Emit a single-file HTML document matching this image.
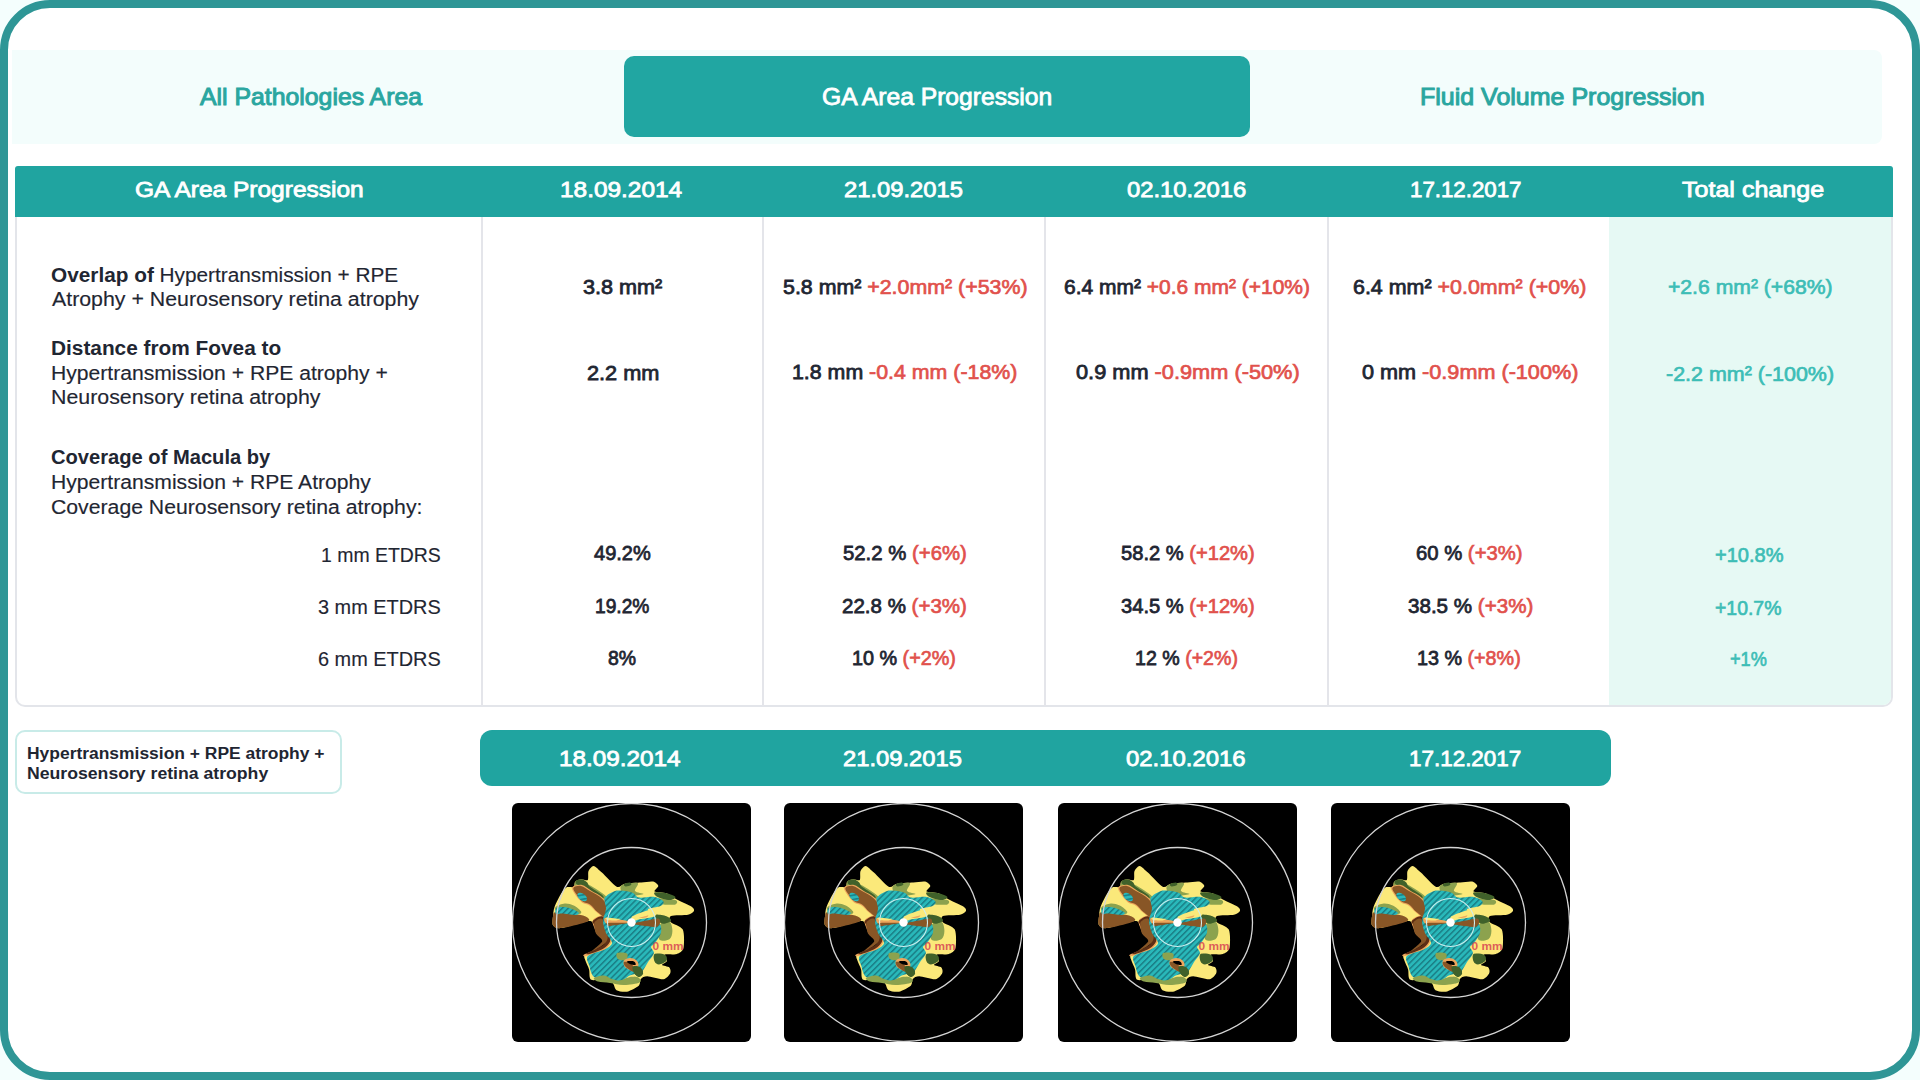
<!DOCTYPE html>
<html><head><meta charset="utf-8"><style>
html,body{margin:0;padding:0;}
body{width:1920px;height:1080px;overflow:hidden;background:#f4fefd;font-family:"Liberation Sans",sans-serif;position:relative;}
.frame{position:absolute;left:0;top:0;width:1904px;height:1064px;border:8px solid #2e9696;border-radius:50px;background:#fff;}
.abs{position:absolute;}
.t{position:absolute;white-space:pre;transform-origin:0 0;}
.dv{position:absolute;top:217px;width:2px;height:489px;background:#e4e5ea;}
</style></head><body>
<div class="frame"></div>
<div class="abs" style="left:12px;top:50px;width:1870px;height:94px;background:#f3fdfc;border-radius:0 8px 8px 0;"></div>
<div class="abs" style="left:624px;top:56px;width:626px;height:81px;background:#21a6a2;border-radius:10px;"></div>
<div class="abs" style="left:15px;top:166px;width:1874px;height:537px;border:2px solid #e3e5ea;border-radius:4px 4px 10px 10px;background:#fff;"></div>
<div class="abs" style="left:1609px;top:217px;width:282px;height:488px;background:#e6f9f4;border-radius:0 0 8px 0;"></div>
<div class="abs" style="left:15px;top:166px;width:1878px;height:51px;background:#20a4a0;border-radius:3px 3px 0 0;"></div>
<div class="dv" style="left:481px;"></div>
<div class="dv" style="left:762px;"></div>
<div class="dv" style="left:1044px;"></div>
<div class="dv" style="left:1327px;"></div>
<div class="abs" style="left:15px;top:730px;width:323px;height:60px;border:2px solid #c8ebe8;border-radius:10px;"></div>
<div class="abs" style="left:480px;top:730px;width:1131px;height:56px;background:#20a4a0;border-radius:12px;"></div>
<svg class="abs" style="left:0;top:0" width="1920" height="1080" viewBox="0 0 1920 1080">
<defs>
<pattern id="hatch" patternUnits="userSpaceOnUse" width="4.2" height="4.2" patternTransform="rotate(-45)">
<rect width="4.2" height="4.2" fill="#29b8ba"/>
<rect width="4.2" height="1.5" fill="#1a7f86"/>
</pattern>
<clipPath id="sq"><rect x="0" y="0" width="239" height="239" rx="6"/></clipPath>
<g id="img">
<rect x="0" y="0" width="239" height="239" rx="6" fill="#000"/>
<g clip-path="url(#sq)">
<path fill="#fbe97a" d="M81.7,62.9 C83.5,63.1 86.8,66.8 89.9,69.6 C93.0,72.4 101.6,82.2 104.7,83.7 C107.8,85.2 109.7,81.3 113.0,80.7 C116.3,80.1 125.6,79.8 129.3,79.5 C133.0,79.2 138.8,78.0 141.1,78.5 C143.4,79.0 146.1,81.6 146.3,82.9 C146.5,84.2 141.5,87.5 142.6,88.5 C143.7,89.5 151.5,89.2 154.5,90.3 C157.5,91.4 161.5,94.7 164.9,96.5 C168.3,98.3 177.4,102.2 179.7,103.7 C182.0,105.2 182.4,107.0 181.9,108.1 C181.4,109.2 179.1,111.1 176.0,111.8 C172.9,112.5 161.3,112.0 159.0,113.0 C156.7,114.0 157.3,117.4 158.9,119.2 C160.5,121.0 169.1,123.1 170.8,126.6 C172.5,130.1 172.3,141.8 171.5,145.1 C170.7,148.4 167.4,150.2 164.9,151.1 C162.4,152.0 154.3,150.6 153.0,151.5 C151.7,152.4 155.4,156.6 155.0,158.0 C154.6,159.4 149.7,161.1 150.0,162.0 C150.3,162.9 156.3,163.3 157.4,164.4 C158.5,165.5 159.0,168.7 158.2,170.3 C157.4,171.9 154.6,175.9 151.5,176.3 C148.4,176.7 138.2,173.3 135.2,173.3 C132.2,173.3 130.0,174.7 128.9,176.0 C127.8,177.3 128.6,181.0 126.7,182.7 C124.8,184.4 117.9,188.1 114.9,188.7 C111.9,189.3 106.3,188.2 104.5,187.2 C102.7,186.2 102.6,182.8 101.5,181.3 C100.4,179.8 99.3,176.4 96.3,175.8 C93.3,175.2 81.9,178.1 79.3,176.8 C76.7,175.5 77.9,169.0 77.1,166.4 C76.3,163.8 73.9,159.6 73.4,157.6 C72.9,155.6 71.0,153.2 73.4,151.6 C75.8,150.0 87.8,147.4 91.1,145.7 C94.4,144.0 98.6,141.0 97.8,139.0 C97.0,137.0 87.3,133.2 85.2,130.9 C83.1,128.6 83.5,123.7 82.3,122.0 C81.1,120.3 80.9,117.6 76.5,118.0 C72.1,118.4 53.8,124.5 49.1,125.1 C44.4,125.7 42.1,123.8 41.0,122.2 C39.9,120.6 40.8,115.7 41.0,113.3 C41.2,110.9 41.4,107.3 42.4,104.4 C43.4,101.5 46.8,94.5 48.4,91.8 C50.0,89.1 52.5,85.4 54.3,84.4 C56.1,83.4 60.5,84.8 61.7,84.0 C62.9,83.2 62.2,79.5 63.2,78.5 C64.2,77.5 67.4,76.5 69.1,76.3 C70.8,76.1 74.8,78.1 75.8,77.0 C76.8,75.9 75.7,70.0 76.5,68.1 C77.3,66.2 79.9,62.7 81.7,62.9Z" />
<path fill="#8ca24e" d="M63.2,80.0 C64.7,79.2 70.5,79.3 75.0,81.0 C79.5,82.7 86.5,87.5 90.0,90.0 C93.5,92.5 95.7,94.5 96.0,96.0 C96.3,97.5 95.0,100.0 92.0,99.0 C89.0,98.0 82.3,92.2 78.0,90.0 C73.7,87.8 68.5,87.7 66.0,86.0 C63.5,84.3 61.7,80.8 63.2,80.0Z" />
<path fill="#8ca24e" d="M110.0,82.0 C112.6,80.5 123.4,79.0 125.6,80.0 C127.8,81.0 122.0,86.2 123.0,88.0 C124.0,89.8 132.2,90.3 131.5,91.1 C130.8,91.9 122.5,92.9 118.9,92.6 C115.3,92.2 111.5,90.8 110.0,89.0 C108.5,87.2 107.4,83.5 110.0,82.0Z" />
<path fill="#8ca24e" d="M146.3,95.5 C149.2,95.2 160.6,96.0 163.4,97.0 C166.2,98.0 165.4,100.7 163.4,101.4 C161.4,102.1 154.4,101.8 151.5,101.4 C148.6,101.0 146.9,100.0 146.0,99.0 C145.1,98.0 143.4,95.8 146.3,95.5Z" />
<path fill="#8ca24e" d="M148.6,120.7 C150.3,119.1 155.4,117.3 157.4,118.5 C159.4,119.7 160.4,125.1 160.4,128.1 C160.4,131.1 159.5,134.8 157.4,136.3 C155.3,137.8 149.5,138.4 147.8,137.0 C146.1,135.6 146.9,130.7 147.0,128.0 C147.1,125.3 146.9,122.3 148.6,120.7Z" />
<path fill="#8ca24e" d="M128.6,141.4 C129.7,139.9 135.9,138.1 137.4,139.2 C138.9,140.3 138.5,146.6 137.4,148.1 C136.3,149.6 132.3,149.2 130.8,148.1 C129.3,147.0 127.5,142.9 128.6,141.4Z" />
<path fill="#8ca24e" d="M43.9,103.7 C45.4,102.6 49.8,100.7 52.8,100.5 C55.8,100.3 59.0,101.2 61.7,102.5 C64.4,103.8 68.4,107.1 69.1,108.5 C69.8,109.9 68.8,111.4 66.0,111.0 C63.1,110.6 55.7,106.7 52.0,106.0 C48.3,105.3 45.4,107.4 44.0,107.0 C42.6,106.6 42.4,104.8 43.9,103.7Z" />
<path fill="#8ca24e" d="M84.5,173.9 C86.2,172.9 92.5,170.5 96.3,170.9 C100.1,171.3 102.7,176.0 107.4,176.5 C112.1,177.0 121.2,173.5 124.5,173.9 C127.8,174.3 130.0,177.8 127.4,179.0 C124.8,180.2 114.1,181.6 108.9,181.3 C103.7,181.0 99.8,177.7 96.0,177.0 C92.2,176.3 87.9,177.5 86.0,177.0 C84.1,176.5 82.8,174.9 84.5,173.9Z" />
<path fill="#8ca24e" d="M105.2,150.1 C106.7,149.2 113.4,149.4 114.9,150.5 C116.4,151.6 115.5,155.9 114.0,156.8 C112.5,157.7 107.5,157.1 106.0,156.0 C104.5,154.9 103.7,151.0 105.2,150.1Z" />
<path fill="#40612a" d="M63.2,78.5 C63.7,77.5 67.1,76.2 69.1,76.3 C71.1,76.4 73.5,78.0 75.0,79.2 C76.5,80.4 75.5,81.6 78.0,83.7 C80.5,85.8 87.7,89.8 89.9,91.8 C92.1,93.8 92.0,95.1 91.3,95.5 C90.6,95.9 88.7,95.8 86.0,94.0 C83.3,92.2 78.3,87.0 75.0,85.0 C71.7,83.0 68.0,83.1 66.0,82.0 C64.0,80.9 62.7,79.5 63.2,78.5Z" />
<path fill="#40612a" d="M142.6,89.6 C144.1,89.0 151.0,89.6 154.5,90.3 C158.0,91.0 162.9,92.9 163.4,94.0 C163.9,95.1 160.4,97.0 157.4,97.0 C154.4,97.0 148.1,95.2 145.6,94.0 C143.1,92.8 141.1,90.2 142.6,89.6Z" />
<path fill="#40612a" d="M112.0,81.0 C112.8,80.3 116.8,79.3 118.0,79.5 C119.2,79.7 119.8,81.3 119.0,82.0 C118.2,82.7 114.7,83.7 113.5,83.5 C112.3,83.3 111.2,81.7 112.0,81.0Z" />
<path fill="#40612a" d="M142.6,111.8 C144.1,111.1 151.8,112.3 154.5,113.3 C157.2,114.3 159.5,116.5 159.0,117.7 C158.5,118.9 153.7,120.7 151.5,120.7 C149.3,120.7 147.1,119.2 145.6,117.7 C144.1,116.2 141.1,112.5 142.6,111.8Z" />
<path fill="#40612a" d="M142.6,151.1 C144.3,150.0 151.0,150.7 153.0,151.8 C155.0,152.9 155.5,156.1 154.5,157.7 C153.5,159.3 149.1,161.3 147.1,161.4 C145.1,161.5 143.3,160.2 142.6,158.5 C141.8,156.8 140.9,152.2 142.6,151.1Z" />
<path fill="#40612a" d="M120.8,163.5 C121.8,162.5 126.3,162.9 128.0,164.0 C129.7,165.1 131.3,168.3 131.1,170.0 C130.9,171.7 128.5,173.9 127.0,173.9 C125.5,173.9 123.0,171.7 122.0,170.0 C121.0,168.3 119.8,164.5 120.8,163.5Z" />
<path fill="#eda65c" d="M60.5,84.0 C61.8,82.6 66.9,81.4 70.0,82.0 C73.1,82.6 75.5,85.3 79.0,87.5 C82.5,89.7 87.7,91.7 91.0,95.0 C94.3,98.3 98.3,104.0 99.0,107.5 C99.7,111.0 97.3,115.7 95.0,116.0 C92.7,116.3 87.9,111.8 85.0,109.5 C82.1,107.2 80.0,104.2 77.5,102.5 C75.0,100.8 72.5,101.5 70.0,99.5 C67.5,97.5 64.1,93.1 62.5,90.5 C60.9,87.9 59.2,85.4 60.5,84.0Z" />
<path fill="#eda65c" d="M81.0,117.0 C82.3,115.2 87.2,112.2 90.0,113.0 C92.8,113.8 96.3,118.8 98.0,122.0 C99.7,125.2 99.8,129.1 100.0,132.0 C100.2,134.9 100.3,137.0 99.0,139.5 C97.7,142.0 96.2,144.8 92.0,147.0 C87.8,149.2 77.2,152.3 74.0,153.0 C70.8,153.7 70.2,152.4 73.0,151.0 C75.8,149.6 86.8,146.4 90.5,144.5 C94.2,142.6 96.2,141.7 95.5,139.5 C94.8,137.3 88.2,134.1 86.0,131.5 C83.8,128.9 82.8,126.4 82.0,124.0 C81.2,121.6 79.7,118.8 81.0,117.0Z" />
<path fill="#eda65c" d="M112.0,157.5 C112.8,156.0 116.0,155.1 118.0,155.0 C120.0,154.9 122.6,155.8 124.0,157.0 C125.4,158.2 126.8,160.2 126.5,162.0 C126.2,163.8 124.2,167.7 122.0,168.0 C119.8,168.3 114.7,165.8 113.0,164.0 C111.3,162.2 111.2,159.0 112.0,157.5Z" />
<path fill="#885626" d="M61.7,84.4 C62.7,83.3 66.4,82.3 69.1,82.9 C71.8,83.5 74.5,86.0 78.0,88.1 C81.5,90.2 86.7,92.3 89.9,95.5 C93.1,98.7 96.6,104.2 97.3,107.4 C98.0,110.6 96.3,114.5 94.3,114.8 C92.3,115.0 88.1,111.1 85.4,108.9 C82.7,106.7 80.5,103.1 78.0,101.4 C75.5,99.7 73.1,100.5 70.6,98.5 C68.1,96.5 64.7,91.9 63.2,89.6 C61.7,87.2 60.7,85.5 61.7,84.4Z" />
<path fill="#885626" d="M41.0,113.3 C41.6,111.1 40.3,109.2 44.7,108.9 C49.1,108.7 62.3,110.7 67.6,111.8 C72.9,112.9 75.5,114.3 76.5,115.5 C77.5,116.7 78.2,117.6 73.6,119.2 C69.0,120.8 54.5,124.6 49.1,125.1 C43.7,125.6 42.4,124.2 41.0,122.2 C39.6,120.2 40.4,115.5 41.0,113.3Z" />
<path fill="#885626" d="M111.9,159.0 C112.7,158.4 116.3,159.0 118.0,160.0 C119.7,161.0 121.8,163.6 122.3,165.0 C122.8,166.4 122.5,168.9 121.0,168.7 C119.5,168.4 114.9,165.1 113.4,163.5 C111.9,161.9 111.1,159.6 111.9,159.0Z" />
<path fill="#5e2e14" d="M81.0,117.7 C82.3,116.2 87.4,112.8 89.9,113.3 C92.4,113.8 94.7,118.2 96.0,121.0 C97.3,123.8 97.7,127.0 98.0,130.0 C98.3,133.0 99.0,136.4 97.8,139.0 C96.6,141.6 94.4,143.7 91.1,145.7 C87.8,147.7 80.5,150.2 77.8,150.9 C75.1,151.6 73.0,151.3 75.0,150.0 C77.0,148.7 87.0,145.0 90.0,143.0 C93.0,141.0 93.8,140.0 93.0,138.0 C92.2,136.0 87.0,133.6 85.2,130.9 C83.4,128.2 83.0,124.2 82.3,122.0 C81.6,119.8 79.7,119.2 81.0,117.7Z" />
<path fill="#885626" d="M83.0,118.5 C84.2,117.2 87.7,114.9 89.5,115.5 C91.3,116.1 93.0,119.6 94.0,122.0 C95.0,124.4 95.3,127.4 95.5,130.0 C95.7,132.6 96.0,135.3 95.0,137.5 C94.0,139.7 92.0,141.2 89.5,143.0 C87.0,144.8 80.2,148.3 80.0,148.0 C79.8,147.7 86.3,142.8 88.0,141.0 C89.7,139.2 90.7,138.8 90.0,137.0 C89.3,135.2 85.2,132.8 84.0,130.5 C82.8,128.2 82.7,125.0 82.5,123.0 C82.3,121.0 81.8,119.8 83.0,118.5Z" />
<path fill="url(#hatch)" d="M92.7,95.0 C94.0,92.3 100.0,89.0 103.0,88.0 C106.0,87.0 110.3,87.7 113.0,88.0 C115.7,88.3 118.9,89.0 121.0,90.0 C123.1,91.0 123.8,93.9 127.0,94.5 C130.2,95.1 138.9,93.4 142.6,94.0 C146.3,94.6 150.6,97.2 151.5,98.5 C152.4,99.8 150.9,101.8 148.6,102.9 C146.3,104.0 137.1,104.8 136.0,106.0 C134.9,107.2 139.5,109.2 141.0,111.0 C142.5,112.8 144.8,116.0 146.0,118.0 C147.2,120.0 148.6,122.0 149.0,124.0 C149.4,126.0 149.5,128.6 148.6,131.0 C147.7,133.4 144.4,138.1 143.0,140.0 C141.6,141.9 139.2,142.5 139.0,144.0 C138.8,145.5 142.4,147.9 141.9,150.3 C141.4,152.7 137.5,156.9 135.6,159.7 C133.7,162.5 131.9,167.3 129.3,169.2 C126.7,171.1 121.1,171.1 118.3,172.3 C115.5,173.5 113.5,176.1 110.4,177.0 C107.3,177.9 102.0,179.1 97.8,178.6 C93.6,178.1 85.2,176.3 82.1,173.9 C79.0,171.5 78.3,166.0 77.4,162.9 C76.5,159.8 73.5,155.5 75.8,153.0 C78.1,150.5 89.0,148.3 92.6,146.4 C96.2,144.5 99.8,142.5 100.0,140.0 C100.2,137.5 95.3,133.3 94.0,130.0 C92.7,126.7 91.0,121.6 91.0,118.0 C91.0,114.4 93.7,109.5 94.0,106.0 C94.3,102.5 91.4,97.7 92.7,95.0Z" />
<path fill="url(#hatch)" d="M44.7,105.1 C46.5,104.0 51.4,103.8 55.0,104.5 C58.6,105.2 64.6,107.8 66.1,109.0 C67.6,110.2 66.7,111.8 64.0,112.0 C61.3,112.2 53.3,110.7 50.0,110.5 C46.7,110.3 44.9,111.9 44.0,111.0 C43.1,110.1 42.9,106.2 44.7,105.1Z" />
<ellipse cx="70.2" cy="94" rx="5.5" ry="3.3" transform="rotate(35 70.2 94)" fill="url(#hatch)"/>
<path fill="#8ca24e" d="M82.0,175.0 C83.0,174.0 89.0,172.3 92.0,172.5 C95.0,172.7 97.3,175.2 100.0,176.0 C102.7,176.8 105.0,177.8 108.0,177.5 C111.0,177.2 115.0,174.4 118.0,174.0 C121.0,173.6 124.4,174.1 126.0,175.0 C127.6,175.9 129.8,178.3 127.5,179.5 C125.2,180.7 116.9,181.9 112.0,182.0 C107.1,182.1 102.3,180.6 98.0,180.0 C93.7,179.4 88.7,179.3 86.0,178.5 C83.3,177.7 81.0,176.0 82.0,175.0Z" />
<path fill="#8ca24e" d="M105.2,150.1 C106.7,149.2 113.4,149.4 114.9,150.5 C116.4,151.6 115.5,155.9 114.0,156.8 C112.5,157.7 107.5,157.1 106.0,156.0 C104.5,154.9 103.7,151.0 105.2,150.1Z" />
<path fill="#eda65c" d="M112.0,157.5 C112.8,156.0 116.0,155.1 118.0,155.0 C120.0,154.9 122.6,155.8 124.0,157.0 C125.4,158.2 126.8,160.2 126.5,162.0 C126.2,163.8 124.2,167.7 122.0,168.0 C119.8,168.3 114.7,165.8 113.0,164.0 C111.3,162.2 111.2,159.0 112.0,157.5Z" />
<path fill="#885626" d="M111.9,159.0 C112.7,158.4 116.3,159.0 118.0,160.0 C119.7,161.0 121.8,163.6 122.3,165.0 C122.8,166.4 122.5,168.9 121.0,168.7 C119.5,168.4 114.9,165.1 113.4,163.5 C111.9,161.9 111.1,159.6 111.9,159.0Z" />
<path fill="#000" d="M115.0,158.5 C115.7,158.1 120.6,157.9 122.0,158.5 C123.4,159.1 124.2,161.6 123.5,162.0 C122.8,162.4 119.4,161.6 118.0,161.0 C116.6,160.4 114.3,158.9 115.0,158.5Z" />
<path fill="#40612a" d="M120.8,163.5 C121.8,162.5 126.3,162.9 128.0,164.0 C129.7,165.1 131.3,168.3 131.1,170.0 C130.9,171.7 128.5,173.9 127.0,173.9 C125.5,173.9 123.0,171.7 122.0,170.0 C121.0,168.3 119.8,164.5 120.8,163.5Z" />
<path fill="#fbe97a" d="M120.4,113.3 C122.8,111.5 131.2,108.6 135.2,107.4 C139.1,106.2 142.9,104.9 144.1,105.9 C145.3,106.9 145.3,111.6 142.6,113.3 C139.9,115.0 131.4,115.5 127.8,116.3 C124.2,117.1 122.2,118.5 121.0,118.0 C119.8,117.5 118.0,115.1 120.4,113.3Z" />
<path fill="#eda65c" d="M127.0,115.0 C127.3,114.7 134.8,112.6 136.0,112.5 C137.2,112.4 135.5,114.1 134.0,114.5 C132.5,114.9 126.7,115.3 127.0,115.0Z" />
<path fill="#885626" d="M123.0,120.0 C125.3,119.4 143.5,115.5 146.0,115.5 C148.5,115.5 148.2,119.2 148.0,120.0 C147.8,120.8 146.5,123.8 144.0,124.0 C141.5,124.2 125.1,121.9 123.0,121.5 C120.9,121.1 120.7,120.6 123.0,120.0Z" />
<path fill="#eda65c" d="M93.0,115.0 C95.1,114.7 113.7,117.5 116.0,118.0 C118.3,118.5 118.1,119.7 116.0,120.0 C113.9,120.3 97.3,121.5 95.0,121.0 C92.7,120.5 90.9,115.3 93.0,115.0Z" />
<path fill="#fbe97a" d="M94.0,114.5 C95.3,114.4 107.0,115.7 108.0,116.0 C109.0,116.3 105.3,117.4 104.0,117.5 C102.7,117.6 96.0,117.3 95.0,117.0 C94.0,116.7 92.7,114.6 94.0,114.5Z" />
<path fill="#885626" d="M95.0,120.0 C96.9,119.7 115.8,119.7 116.0,120.0 C116.2,120.3 99.1,123.0 97.0,123.0 C94.9,123.0 93.1,120.3 95.0,120.0Z" />
<circle cx="119.5" cy="119.5" r="119" fill="none" stroke="#d4d4d4" stroke-width="1.3"/>
<circle cx="119.5" cy="119.5" r="75" fill="none" stroke="#d4d4d4" stroke-width="1.3"/>
<circle cx="119.5" cy="119.5" r="24" fill="none" stroke="#cfeeee" stroke-width="1.1"/>
<circle cx="119.5" cy="119.5" r="4.2" fill="#fff"/>
<text x="140.5" y="147.3" font-family="Liberation Sans" font-weight="700" font-size="10.5" fill="#d94b55" fill-opacity="0.9" textLength="31" lengthAdjust="spacingAndGlyphs">0 mm</text>
</g>
</g>
</defs>
<use href="#img" x="512" y="803"/>
<use href="#img" x="784" y="803"/>
<use href="#img" x="1058" y="803"/>
<use href="#img" x="1331" y="803"/>
</svg>
<div class="t" style="left:200.43px;top:85.10px;font-size:24px;line-height:24px;transform:scaleX(1.0336)"><span style="font-weight:400;color:#2aa6a0;-webkit-text-stroke:1.0px #2aa6a0;">All Pathologies Area</span></div>
<div class="t" style="left:822.40px;top:85.10px;font-size:24px;line-height:24px;transform:scaleX(1.0274)"><span style="font-weight:400;color:#ffffff;-webkit-text-stroke:0.8px #ffffff;">GA Area Progression</span></div>
<div class="t" style="left:1420.26px;top:85.10px;font-size:24px;line-height:24px;transform:scaleX(1.0412)"><span style="font-weight:400;color:#2aa6a0;-webkit-text-stroke:1.0px #2aa6a0;">Fluid Volume Progression</span></div>
<div class="t" style="left:134.60px;top:179.72px;font-size:21.5px;line-height:21.5px;transform:scaleX(1.1390)"><span style="font-weight:400;color:#ffffff;-webkit-text-stroke:0.8px #ffffff;">GA Area Progression</span></div>
<div class="t" style="left:560.47px;top:179.72px;font-size:21.5px;line-height:21.5px;transform:scaleX(1.1346)"><span style="font-weight:400;color:#ffffff;-webkit-text-stroke:0.8px #ffffff;">18.09.2014</span></div>
<div class="t" style="left:844.30px;top:179.72px;font-size:21.5px;line-height:21.5px;transform:scaleX(1.1046)"><span style="font-weight:400;color:#ffffff;-webkit-text-stroke:0.8px #ffffff;">21.09.2015</span></div>
<div class="t" style="left:1127.40px;top:179.72px;font-size:21.5px;line-height:21.5px;transform:scaleX(1.1074)"><span style="font-weight:400;color:#ffffff;-webkit-text-stroke:0.8px #ffffff;">02.10.2016</span></div>
<div class="t" style="left:1409.56px;top:179.72px;font-size:21.5px;line-height:21.5px;transform:scaleX(1.0358)"><span style="font-weight:400;color:#ffffff;-webkit-text-stroke:0.8px #ffffff;">17.12.2017</span></div>
<div class="t" style="left:1681.60px;top:179.72px;font-size:21.5px;line-height:21.5px;transform:scaleX(1.1652)"><span style="font-weight:400;color:#ffffff;-webkit-text-stroke:0.8px #ffffff;">Total change</span></div>
<div class="t" style="left:50.56px;top:265.00px;font-size:20px;line-height:20px;transform:scaleX(1.0393)"><span style="font-weight:700;color:#1f2632;">Overlap of </span><span style="font-weight:400;color:#1f2632;-webkit-text-stroke:0.15px #1f2632;">Hypertransmission + RPE</span></div>
<div class="t" style="left:51.60px;top:289.20px;font-size:20px;line-height:20px;transform:scaleX(1.0666)"><span style="font-weight:400;color:#1f2632;-webkit-text-stroke:0.15px #1f2632;">Atrophy + Neurosensory retina atrophy</span></div>
<div class="t" style="left:50.56px;top:337.80px;font-size:20px;line-height:20px;transform:scaleX(1.0409)"><span style="font-weight:700;color:#1f2632;">Distance from Fovea to</span></div>
<div class="t" style="left:51.14px;top:362.60px;font-size:20px;line-height:20px;transform:scaleX(1.0558)"><span style="font-weight:400;color:#1f2632;-webkit-text-stroke:0.15px #1f2632;">Hypertransmission + RPE atrophy +</span></div>
<div class="t" style="left:51.13px;top:387.20px;font-size:20px;line-height:20px;transform:scaleX(1.0677)"><span style="font-weight:400;color:#1f2632;-webkit-text-stroke:0.15px #1f2632;">Neurosensory retina atrophy</span></div>
<div class="t" style="left:50.59px;top:447.00px;font-size:20px;line-height:20px;transform:scaleX(1.0065)"><span style="font-weight:700;color:#1f2632;">Coverage of Macula by</span></div>
<div class="t" style="left:51.14px;top:471.60px;font-size:20px;line-height:20px;transform:scaleX(1.0560)"><span style="font-weight:400;color:#1f2632;-webkit-text-stroke:0.15px #1f2632;">Hypertransmission + RPE Atrophy</span></div>
<div class="t" style="left:50.54px;top:496.50px;font-size:20px;line-height:20px;transform:scaleX(1.0606)"><span style="font-weight:400;color:#1f2632;-webkit-text-stroke:0.15px #1f2632;">Coverage Neurosensory retina atrophy:</span></div>
<div class="t" style="left:320.83px;top:544.70px;font-size:20px;line-height:20px;transform:scaleX(0.9713)"><span style="font-weight:400;color:#1f2632;-webkit-text-stroke:0.15px #1f2632;">1 mm ETDRS</span></div>
<div class="t" style="left:317.90px;top:597.00px;font-size:20px;line-height:20px;transform:scaleX(0.9951)"><span style="font-weight:400;color:#1f2632;-webkit-text-stroke:0.15px #1f2632;">3 mm ETDRS</span></div>
<div class="t" style="left:317.90px;top:649.30px;font-size:20px;line-height:20px;transform:scaleX(0.9951)"><span style="font-weight:400;color:#1f2632;-webkit-text-stroke:0.15px #1f2632;">6 mm ETDRS</span></div>
<div class="t" style="left:583.00px;top:276.15px;font-size:21px;line-height:21px;transform:scaleX(1.0299)"><span style="font-weight:400;color:#1f2632;-webkit-text-stroke:0.8px #1f2632;">3.8 mm²</span></div>
<div class="t" style="left:782.60px;top:276.15px;font-size:21px;line-height:21px;transform:scaleX(1.0171)"><span style="font-weight:400;color:#1f2632;-webkit-text-stroke:0.8px #1f2632;">5.8 mm² </span><span style="font-weight:400;color:#e1514c;-webkit-text-stroke:0.7px #e1514c;">+2.0mm² (+53%)</span></div>
<div class="t" style="left:1064.30px;top:276.15px;font-size:21px;line-height:21px;transform:scaleX(0.9988)"><span style="font-weight:400;color:#1f2632;-webkit-text-stroke:0.8px #1f2632;">6.4 mm² </span><span style="font-weight:400;color:#e1514c;-webkit-text-stroke:0.7px #e1514c;">+0.6 mm² (+10%)</span></div>
<div class="t" style="left:1353.00px;top:276.15px;font-size:21px;line-height:21px;transform:scaleX(1.0206)"><span style="font-weight:400;color:#1f2632;-webkit-text-stroke:0.8px #1f2632;">6.4 mm² </span><span style="font-weight:400;color:#e1514c;-webkit-text-stroke:0.7px #e1514c;">+0.0mm² (+0%)</span></div>
<div class="t" style="left:1667.70px;top:276.05px;font-size:21px;line-height:21px;transform:scaleX(1.0074)"><span style="font-weight:400;color:#3dbdb6;-webkit-text-stroke:0.7px #3dbdb6;">+2.6 mm² (+68%)</span></div>
<div class="t" style="left:586.60px;top:361.65px;font-size:21px;line-height:21px;transform:scaleX(1.0348)"><span style="font-weight:400;color:#1f2632;-webkit-text-stroke:0.8px #1f2632;">2.2 mm</span></div>
<div class="t" style="left:792.28px;top:360.65px;font-size:21px;line-height:21px;transform:scaleX(1.0164)"><span style="font-weight:400;color:#1f2632;-webkit-text-stroke:0.8px #1f2632;">1.8 mm </span><span style="font-weight:400;color:#e1514c;-webkit-text-stroke:0.7px #e1514c;">-0.4 mm (-18%)</span></div>
<div class="t" style="left:1075.80px;top:360.65px;font-size:21px;line-height:21px;transform:scaleX(1.0363)"><span style="font-weight:400;color:#1f2632;-webkit-text-stroke:0.8px #1f2632;">0.9 mm </span><span style="font-weight:400;color:#e1514c;-webkit-text-stroke:0.7px #e1514c;">-0.9mm (-50%)</span></div>
<div class="t" style="left:1361.70px;top:360.65px;font-size:21px;line-height:21px;transform:scaleX(1.0301)"><span style="font-weight:400;color:#1f2632;-webkit-text-stroke:0.8px #1f2632;">0 mm </span><span style="font-weight:400;color:#e1514c;-webkit-text-stroke:0.7px #e1514c;">-0.9mm (-100%)</span></div>
<div class="t" style="left:1666.20px;top:363.15px;font-size:21px;line-height:21px;transform:scaleX(1.0213)"><span style="font-weight:400;color:#3dbdb6;-webkit-text-stroke:0.7px #3dbdb6;">-2.2 mm² (-100%)</span></div>
<div class="t" style="left:594.00px;top:542.15px;font-size:21px;line-height:21px;transform:scaleX(0.9533)"><span style="font-weight:400;color:#1f2632;-webkit-text-stroke:0.8px #1f2632;">49.2%</span></div>
<div class="t" style="left:843.00px;top:542.15px;font-size:21px;line-height:21px;transform:scaleX(0.9685)"><span style="font-weight:400;color:#1f2632;-webkit-text-stroke:0.8px #1f2632;">52.2 % </span><span style="font-weight:400;color:#e1514c;-webkit-text-stroke:0.7px #e1514c;">(+6%)</span></div>
<div class="t" style="left:1120.50px;top:542.15px;font-size:21px;line-height:21px;transform:scaleX(0.9586)"><span style="font-weight:400;color:#1f2632;-webkit-text-stroke:0.8px #1f2632;">58.2 % </span><span style="font-weight:400;color:#e1514c;-webkit-text-stroke:0.7px #e1514c;">(+12%)</span></div>
<div class="t" style="left:1416.25px;top:542.15px;font-size:21px;line-height:21px;transform:scaleX(0.9659)"><span style="font-weight:400;color:#1f2632;-webkit-text-stroke:0.8px #1f2632;">60 % </span><span style="font-weight:400;color:#e1514c;-webkit-text-stroke:0.7px #e1514c;">(+3%)</span></div>
<div class="t" style="left:1715.30px;top:544.15px;font-size:21px;line-height:21px;transform:scaleX(0.9542)"><span style="font-weight:400;color:#3dbdb6;-webkit-text-stroke:0.7px #3dbdb6;">+10.8%</span></div>
<div class="t" style="left:594.59px;top:594.65px;font-size:21px;line-height:21px;transform:scaleX(0.9136)"><span style="font-weight:400;color:#1f2632;-webkit-text-stroke:0.8px #1f2632;">19.2%</span></div>
<div class="t" style="left:841.90px;top:594.65px;font-size:21px;line-height:21px;transform:scaleX(0.9772)"><span style="font-weight:400;color:#1f2632;-webkit-text-stroke:0.8px #1f2632;">22.8 % </span><span style="font-weight:400;color:#e1514c;-webkit-text-stroke:0.7px #e1514c;">(+3%)</span></div>
<div class="t" style="left:1120.50px;top:594.65px;font-size:21px;line-height:21px;transform:scaleX(0.9586)"><span style="font-weight:400;color:#1f2632;-webkit-text-stroke:0.8px #1f2632;">34.5 % </span><span style="font-weight:400;color:#e1514c;-webkit-text-stroke:0.7px #e1514c;">(+12%)</span></div>
<div class="t" style="left:1407.50px;top:594.65px;font-size:21px;line-height:21px;transform:scaleX(0.9803)"><span style="font-weight:400;color:#1f2632;-webkit-text-stroke:0.8px #1f2632;">38.5 % </span><span style="font-weight:400;color:#e1514c;-webkit-text-stroke:0.7px #e1514c;">(+3%)</span></div>
<div class="t" style="left:1715.30px;top:596.55px;font-size:21px;line-height:21px;transform:scaleX(0.9250)"><span style="font-weight:400;color:#3dbdb6;-webkit-text-stroke:0.7px #3dbdb6;">+10.7%</span></div>
<div class="t" style="left:608.10px;top:646.95px;font-size:21px;line-height:21px;transform:scaleX(0.9258)"><span style="font-weight:400;color:#1f2632;-webkit-text-stroke:0.8px #1f2632;">8%</span></div>
<div class="t" style="left:852.36px;top:646.95px;font-size:21px;line-height:21px;transform:scaleX(0.9422)"><span style="font-weight:400;color:#1f2632;-webkit-text-stroke:0.8px #1f2632;">10 % </span><span style="font-weight:400;color:#e1514c;-webkit-text-stroke:0.7px #e1514c;">(+2%)</span></div>
<div class="t" style="left:1135.32px;top:646.95px;font-size:21px;line-height:21px;transform:scaleX(0.9335)"><span style="font-weight:400;color:#1f2632;-webkit-text-stroke:0.8px #1f2632;">12 % </span><span style="font-weight:400;color:#e1514c;-webkit-text-stroke:0.7px #e1514c;">(+2%)</span></div>
<div class="t" style="left:1417.06px;top:646.95px;font-size:21px;line-height:21px;transform:scaleX(0.9404)"><span style="font-weight:400;color:#1f2632;-webkit-text-stroke:0.8px #1f2632;">13 % </span><span style="font-weight:400;color:#e1514c;-webkit-text-stroke:0.7px #e1514c;">(+8%)</span></div>
<div class="t" style="left:1730.30px;top:648.35px;font-size:21px;line-height:21px;transform:scaleX(0.8651)"><span style="font-weight:400;color:#3dbdb6;-webkit-text-stroke:0.7px #3dbdb6;">+1%</span></div>
<div class="t" style="left:27.21px;top:745.60px;font-size:16px;line-height:16px;transform:scaleX(1.0897)"><span style="font-weight:700;color:#1f2632;">Hypertransmission + RPE atrophy +</span></div>
<div class="t" style="left:27.20px;top:765.60px;font-size:16px;line-height:16px;transform:scaleX(1.1028)"><span style="font-weight:700;color:#1f2632;">Neurosensory retina atrophy</span></div>
<div class="t" style="left:559.27px;top:748.73px;font-size:21.5px;line-height:21.5px;transform:scaleX(1.1299)"><span style="font-weight:400;color:#ffffff;-webkit-text-stroke:0.8px #ffffff;">18.09.2014</span></div>
<div class="t" style="left:843.00px;top:748.73px;font-size:21.5px;line-height:21.5px;transform:scaleX(1.1056)"><span style="font-weight:400;color:#ffffff;-webkit-text-stroke:0.8px #ffffff;">21.09.2015</span></div>
<div class="t" style="left:1126.00px;top:748.73px;font-size:21.5px;line-height:21.5px;transform:scaleX(1.1111)"><span style="font-weight:400;color:#ffffff;-webkit-text-stroke:0.8px #ffffff;">02.10.2016</span></div>
<div class="t" style="left:1408.56px;top:748.73px;font-size:21.5px;line-height:21.5px;transform:scaleX(1.0434)"><span style="font-weight:400;color:#ffffff;-webkit-text-stroke:0.8px #ffffff;">17.12.2017</span></div>
</body></html>
